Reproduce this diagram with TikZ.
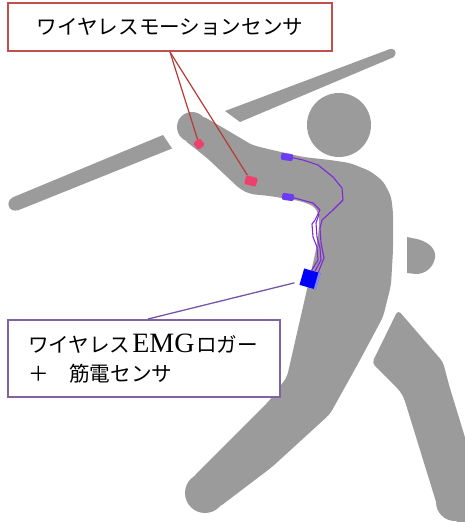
\documentclass[tikz,border=0pt]{standalone}
\usepackage{fontspec}
\newfontfamily\cjk{Noto Sans CJK JP}
\newfontfamily\latinserif{Liberation Serif}
\usetikzlibrary{calc}
\definecolor{figgray}{RGB}{155,155,155}
\definecolor{motionred}{RGB}{192,80,77}
\definecolor{motionline}{RGB}{180,60,55}
\definecolor{motionpink}{RGB}{238,64,108}
\definecolor{emgpurple}{RGB}{128,100,162}
\definecolor{emgline}{RGB}{120,85,165}
\definecolor{electrode}{RGB}{108,60,245}
\definecolor{wirecol}{RGB}{128,40,215}
\definecolor{loggerblue}{RGB}{0,0,255}
\definecolor{loggeredge}{RGB}{135,135,255}
\tikzset{
  figure/.style={fill=figgray},
  labelbox/.style={draw, line width=2pt, fill=white, inner sep=0pt,
    font=\cjk\fontsize{20.6pt}{29.5pt}\selectfont},
  pinksensor/.style={fill=motionpink, inner sep=0pt, rounded corners=1.5pt},
  emgsensor/.style={fill=electrode, inner sep=0pt, rounded corners=2pt},
  wire/.style={draw=wirecol, line width=1.1pt, line join=round},
  motionlead/.style={draw=motionline, line width=1.2pt},
  emglead/.style={draw=emgline, line width=1.3pt},
}
\begin{document}
\begin{tikzpicture}[x=1pt,y=-1pt]
\useasboundingbox (0,0) rectangle (465,522);
\fill[white] (0,0) rectangle (465,522);
\clip (0,0) rectangle (465,522);

% bat, lower part with rounded end
\fill[figure] (12.4,197.5) -- (163,135) -- (172,148.5) -- (17.6,210.5) -- cycle;
\fill[figure] (15,204) circle[radius=6.6];
% bat, upper part, tapering to the tip
\fill[figure] (225,111) -- (390,49) -- (394,57) -- (240,122) -- cycle;
\fill[figure] (391.5,53) circle[radius=4.2];

% head
\fill[figure] (339,125) circle[radius=32];

% arm, torso and front leg
\fill[figure, rounded corners=5pt]
  (201,115) -- (232,133) -- (252,145) -- (268,149) -- (303,157) -- (330,160)
  -- (350,163) -- (370,171) -- (383,181) -- (391,196) -- (393,212) -- (393,250)
  -- (391,285) -- (383,317) -- (360,360) -- (330,414) -- (272,467) -- (218,508)
  -- (192,478) -- (250,420) -- (270,400) -- (287,377) -- (297,333) -- (308,285)
  -- (316,250) -- (319,228) -- (319,215) -- (314,206) -- (300,201) -- (270,196)
  -- (250,194) -- (240,189) -- (207,158) -- (183,139) -- cycle;
\fill[figure] (192,127) circle[radius=15];
\fill[figure] (205,493) circle[radius=20];

% back hand
\fill[figure] (407,237) -- (417,239) .. controls (432,243) and (436,251) .. (435,258)
  .. controls (433,268) and (425,274) .. (416,274) -- (407,273) -- cycle;

% back leg
\fill[figure, rounded corners=4pt]
  (398,310) -- (443,362) -- (449,385) -- (478,480) -- (478,530) -- (455,521)
  -- (437,505) -- (404,398) -- (400,391) -- (372,363) -- cycle;
\fill[figure] (455,502) circle[radius=19];

% motion sensors
\node[pinksensor, rotate=40, minimum size=8.5pt] (s1) at (199,144) {};
\node[pinksensor, rotate=-15, minimum width=12pt, minimum height=9pt] (s2) at (251,181) {};

% EMG electrodes and logger
\node[emgsensor, rotate=-8, minimum width=12pt, minimum height=7pt] (pa) at (287,157) {};
\node[emgsensor, rotate=-8, minimum width=12pt, minimum height=7pt] (pb) at (288,197) {};
\node[fill=loggerblue, rotate=-16, minimum size=17pt, inner sep=0pt] (logger) at (310,279) {};
\fill[loggeredge] (logger.north east) -- (logger.south east)
  -- ($(logger.south east)!0.13!(logger.south west)$)
  -- ($(logger.north east)!0.13!(logger.north west)$) -- cycle;

% electrode wires
\draw[wire] (pa.east) -- (303,160) -- (318,165) -- (333,177) -- (342,188) -- (343,200)
  -- (333,210) -- (322,220) -- (320,228) -- (321,243) -- (324,258) -- ($(logger.north east)!0.15!(logger.north west)$);
\draw[wire] (pb.east) -- (313,203) -- (320,210) -- (315,220) -- (312,224) -- (313,237)
  -- (317,247) -- (318,260) -- ($(logger.north east)!0.55!(logger.north west)$);
\draw[wire] (319,214) -- (316,223) -- (317,237) -- (320,248) -- (321,260)
  -- ($(logger.north east)!0.35!(logger.north west)$);

% labels
\node[labelbox, draw=motionred, minimum width=324pt, minimum height=48pt] (label1)
  at (170,27) {ワイヤレスモーションセンサ};
\node[labelbox, draw=emgpurple, minimum width=272pt, minimum height=77pt,
  text width=232pt, align=left, inner xsep=20pt] (label2) at (144,358.5)
  {ワイヤレス\makebox[66pt][c]{\latinserif\fontsize{28pt}{28pt}\selectfont EMG}ロガー\\＋　筋電センサ};

% leader lines
\draw[motionlead] (label1.south) -- (s1);
\draw[motionlead] (label1.south) -- (s2);
\draw[emglead, shorten >=6pt] ([xshift=4pt]label2.north) -- (logger);
\end{tikzpicture}
\end{document}
